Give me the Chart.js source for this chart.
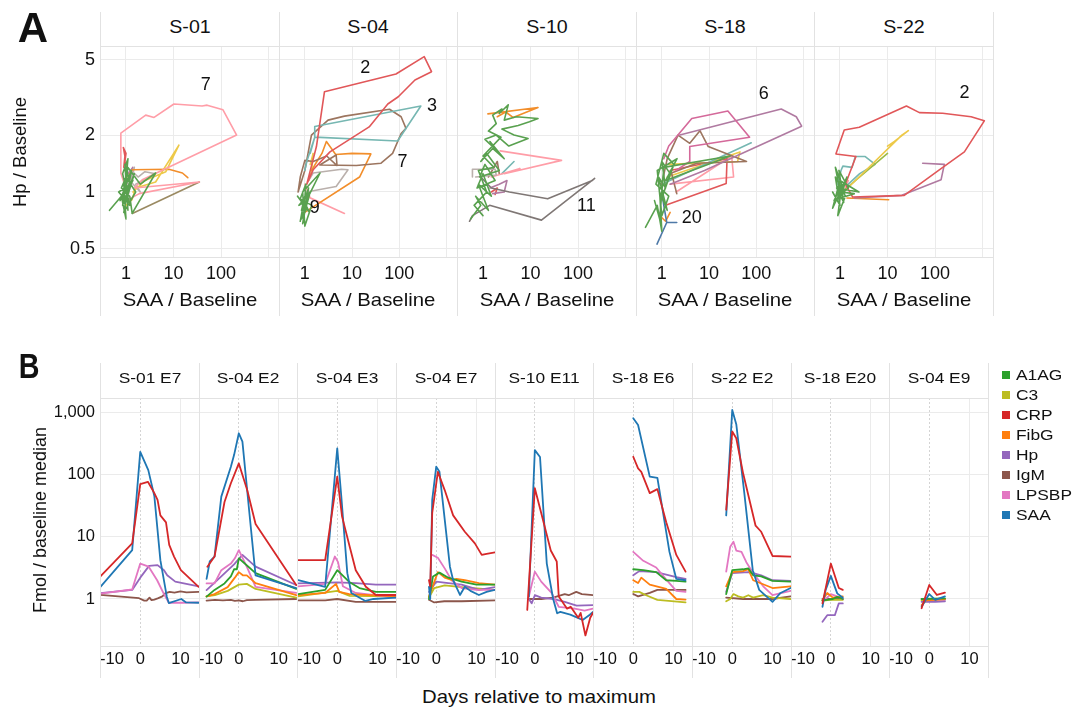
<!DOCTYPE html>
<html><head><meta charset="utf-8">
<script src="https://cdn.jsdelivr.net/npm/chart.js@4.4.1/dist/chart.umd.min.js"></script>
<style>
html,body{margin:0;padding:0;background:#fff;}
#root{position:relative;width:1075px;height:715px;overflow:hidden;font-family:"Liberation Sans",Arial,Helvetica,sans-serif;color:#111;}
canvas{position:absolute;}
.t{position:absolute;white-space:nowrap;line-height:1;}
.ln{position:absolute;background:#e2e2e2;}
</style></head><body><div id="root"></div>
<script>
// ================= DATA =================
// ---- Panel A: Hp/Baseline vs SAA/Baseline trajectories, pairs [SAA ratio, Hp ratio]
const A_TITLES = ['S-01', 'S-04', 'S-10', 'S-18', 'S-22'];
const A_X_TICKS = [1, 10, 100, 1000];
const A_X_LABELS = ['1', '10', '100', ''];
const A_Y_TICKS = [0.5, 1, 2, 5];
const A_Y_LABELS = ['0.5', '1', '2', '5'];

const A_S01 = {
  G: [[0.45,0.8],[0.8,0.95],[1.0,0.72],[0.9,1.1],[1.2,0.85],[0.85,1.25],[1.1,1.5],[0.95,1.0],[1.4,1.15],[0.75,0.9],[1.3,1.3],[0.9,0.78],[1.6,1.0],[1.0,1.2],[0.8,1.05],[1.2,0.95],[1.35,0.77],[4.2,1.26],[2.0,1.1],[1.1,1.35],[0.85,0.85],[1.5,1.25],[1.0,0.9],[0.7,1.0],[1.25,1.1],[0.95,1.4],[1.1,0.8]],
  E7: [[1.05,1.0],[0.78,1.26],[0.78,1.6],[0.78,2.05],[2.6,2.55],[3.9,2.48],[10.2,2.92],[40,2.85],[51,2.88],[110,2.72],[213,2.0],[2.2,1.16],[1.5,1.05],[35,1.13],[1.9,0.98],[1.2,0.92]],
  Y: [[1.0,0.85],[1.34,0.91],[1.6,1.05],[4.2,1.13],[13,1.77],[6.9,1.28],[2.5,1.15],[1.4,1.0]],
  O: [[1.1,1.2],[1.35,1.31],[8,1.32],[15.4,1.26],[20,1.19]],
  R: [[0.9,1.35],[0.95,1.55],[0.88,1.72],[1.0,1.6],[0.95,1.45],[1.05,1.3]],
  BR: [[1.36,0.77],[35,1.13]],
  GR: [[1.0,1.05],[1.3,1.3],[1.8,1.2],[2.5,1.28],[4.2,1.25],[1.6,1.1],[2.0,1.0],[1.2,1.15],[1.5,1.35],[1.1,0.95]],
  P: [[1.1,1.25],[1.4,1.35],[1.25,1.3]]
};
const A_S04 = {
  G: [[0.8,0.7],[1.0,0.95],[0.85,0.8],[1.2,1.05],[0.9,0.68],[1.1,0.9],[0.75,0.85],[1.3,1.0],[0.95,0.75],[1.05,1.1],[0.8,0.92],[1.4,0.85],[1.0,0.66],[0.9,1.0],[2.1,1.26],[1.2,0.95],[0.85,0.72],[1.1,0.82],[0.7,0.95],[1.25,0.78],[0.95,0.9]],
  E2: [[1.1,1.1],[1.76,1.74],[2.6,3.39],[85,4.21],[336,5.2],[480,4.33],[214,3.91],[95,3.19],[57,2.92],[23,2.21],[3.4,1.63],[1.5,1.31],[1.1,1.1]],
  E3: [[1.0,1.3],[1.1,1.45],[1.62,1.95],[1.62,2.22],[285,2.85],[92,1.86],[1.62,1.95],[1.3,1.6]],
  E7: [[0.72,1.0],[1.0,1.3],[1.38,2.0],[3.1,2.4],[6.9,2.52],[62,2.74],[109,2.5],[138,2.17],[109,2.04],[72,1.6],[41,1.42],[12.3,1.38],[2.07,1.39],[4.6,1.57],[4.8,1.38],[2.9,1.55],[1.5,1.45],[1.0,1.47],[0.8,1.2],[0.72,1.0]],
  O: [[0.92,0.77],[14.4,1.2],[25,1.59],[10,1.6],[4.5,1.58],[2.86,1.85],[2.3,1.6],[1.8,1.45],[1.4,1.3]],
  GR: [[1.08,1.0],[4.6,1.07],[8.2,1.31],[6.0,1.32],[1.5,1.26],[1.2,1.15]],
  PK: [[1.1,0.95],[6.9,0.77],[1.3,0.93],[1.0,1.1]],
  Y: [[1.3,1.4],[1.5,1.6],[1.4,1.3],[1.2,1.15]]
};
const A_S10 = {
  G: [[0.55,0.72],[0.9,0.85],[0.7,0.95],[1.3,0.8],[0.8,1.1],[1.5,0.95],[1.0,1.25],[0.75,1.05],[1.8,1.15],[1.1,1.4],[0.85,1.2],[2.2,1.3],[1.2,1.6],[0.9,1.45],[1.6,1.7],[2.8,1.5],[1.4,1.85],[2.0,1.65],[1.1,1.9],[1.9,2.0],[3.5,1.75],[8.9,1.92],[4.5,2.0],[2.5,2.15],[5.5,2.25],[9.5,2.35],[14.4,2.45],[5.0,2.5],[2.8,2.4],[3.4,2.89],[2.2,2.6],[2.5,2.75],[1.6,2.55],[1.9,2.3],[1.3,2.1],[2.4,1.95],[1.0,1.55],[1.7,1.35],[0.8,1.3],[1.2,1.0],[0.65,0.85],[1.0,0.75]],
  E11: [[0.52,0.7],[0.6,0.75],[1.38,0.85],[17,0.71],[224,1.18],[200,1.15],[23,0.92],[3.6,1.0],[1.5,1.05],[0.9,1.2]],
  GB: [[0.6,1.2],[0.6,1.32],[1.8,1.32],[1.9,1.23],[0.7,1.2]],
  O: [[1.27,2.59],[14.4,2.8],[4.3,2.48],[3.0,2.65],[2.0,2.5]],
  PK: [[2.3,1.65],[45,1.47],[2.8,1.25],[6,1.33],[1.5,1.2]],
  P: [[1.4,1.05],[2.2,1.1],[3.2,1.15],[2.8,1.0],[1.6,0.98]],
  R: [[1.5,1.0],[2.0,1.05],[1.8,0.97]],
  BR: [[1.3,1.2],[2.0,1.45],[2.2,1.25]],
  T: [[2.5,1.25],[4.5,1.45]]
};
const A_S18 = {
  G: [[0.45,0.65],[0.8,0.85],[1.0,0.62],[0.9,1.0],[1.3,0.8],[0.85,1.2],[1.2,1.05],[1.0,1.45],[1.5,1.25],[0.95,0.9],[1.8,1.4],[1.1,1.6],[0.75,1.1],[1.4,0.95],[1.0,0.75],[0.8,1.3],[2.1,1.5],[1.2,1.15],[28,1.55],[1.1,1.35],[0.9,0.72],[0.7,0.9]],
  E6: [[1.1,1.5],[1.4,1.75],[4.3,2.45],[25,2.68],[72,1.95],[3.9,1.74],[3.9,1.45],[2.0,1.3]],
  P: [[2.4,2.0],[336,2.75],[700,2.5],[910,2.23],[8,1.3],[1.5,1.1]],
  BR: [[1.0,1.1],[1.3,1.5],[2.2,2.0],[3.9,1.81],[6.4,2.11],[9.6,1.74],[62,1.45],[5.5,1.42],[1.6,1.26],[2.07,0.98]],
  T: [[1.0,1.1],[78,1.82]],
  Y: [[1.3,1.2],[45,1.63],[40,1.45],[1.4,1.4]],
  R: [[1.2,0.85],[23,1.11],[24,1.5],[1.5,1.3]],
  PK: [[2.0,1.0],[30,1.55],[33,1.2],[1.5,1.1]],
  E20: [[1.0,1.0],[1.1,0.85],[1.27,0.69],[2.07,0.69],[1.27,0.69],[0.79,0.53]],
  O: [[0.9,0.75],[1.2,0.7],[1.5,0.78]]
};
const A_S22 = {
  G: [[0.7,1.0],[1.0,0.85],[0.8,1.2],[1.3,0.95],[0.9,0.75],[1.1,1.1],[0.75,0.9],[1.5,1.05],[0.95,1.3],[1.2,0.88],[0.85,1.05],[2.5,1.0],[1.0,1.15],[0.7,0.82],[1.4,1.2],[1.05,0.95],[0.8,1.35],[1.2,1.02],[0.9,0.92],[2.0,0.98],[1.0,1.0]],
  E2: [[1.85,0.94],[1.3,1.1],[2.17,1.54],[0.82,1.59],[1.23,2.13],[2.55,2.2],[25,2.85],[47,2.63],[145,2.61],[575,2.5],[1090,2.38],[415,1.63],[123,1.31],[22.5,0.96],[1.85,0.94]],
  P: [[55,1.42],[157,1.4],[134,1.16],[20,0.96],[2.0,0.93]],
  Y: [[1.2,1.0],[20,2.0],[27.5,2.11],[14,1.85],[10,1.75]],
  YG: [[1.1,1.0],[10,1.6]],
  T: [[0.9,1.1],[1.05,1.3],[1.15,1.37],[1.8,1.35],[2.1,1.54],[3.4,1.54],[5.5,1.4],[2.6,1.25],[1.5,1.1]],
  O: [[1.4,0.93],[10.6,0.91]],
  PK: [[1.2,1.0],[1.5,1.15],[1.3,1.05]]
};
const A_DATA = [A_S01, A_S04, A_S10, A_S18, A_S22];
// episode number labels: [text, SAA ratio, Hp ratio]
const A_LABELS = [
  [['7', 48, 3.68]],
  [['2', 19, 4.53], ['3', 490, 2.85], ['7', 116, 1.44], ['9', 1.62, 0.82]],
  [['11', 150, 0.84]],
  [['6', 144, 3.29], ['20', 4.3, 0.73]],
  [['2', 415, 3.33]]
];

// ---- Panel B: Fmol / baseline median vs days relative to maximum, pairs [day, ratio]
const ANALYTES = ['A1AG', 'C3', 'CRP', 'FibG', 'Hp', 'IgM', 'LPSBP', 'SAA'];
const B_TITLES = ['S-01 E7', 'S-04 E2', 'S-04 E3', 'S-04 E7', 'S-10 E11', 'S-18 E6', 'S-22 E2', 'S-18 E20', 'S-04 E9'];
const B_X_TICKS = [-10, 0, 10];
const B_Y_TICKS = [1, 10, 100, 1000];

const B_S01_E7 = {
  SAA: [[-9.9,1.57],[-2,6.1],[0,230],[2,117],[3.5,45],[5,4.2],[6.6,1.09],[7.1,0.86],[10.2,1.0],[11.4,0.88],[14.5,0.87]],
  CRP: [[-9.9,2.3],[-2,7.8],[0,70],[1.9,76],[3.5,50],[4.3,39],[5,22],[6.4,17],[7.2,7.4],[8.4,4.8],[10.1,2.9],[14.5,1.57]],
  Hp: [[-9.9,1.24],[-2,1.4],[0,2.2],[2.2,3.4],[4.3,3.5],[5.9,2.9],[6.7,2.4],[8.7,1.9],[14.5,1.6]],
  LPSBP: [[-9.9,1.22],[-2,1.42],[0,3.7],[2.1,3.3],[4.2,2.0],[5.8,1.23],[7.1,0.87],[10.5,0.87],[14.5,0.88]],
  IgM: [[-9.9,1.16],[-0.3,1.03],[1.0,0.94],[1.6,0.94],[2.3,1.05],[2.8,0.96],[3.5,0.98],[4.5,1.03],[5.5,1.1],[6.2,1.23],[7.3,1.3],[8.5,1.27],[10,1.32],[11.5,1.28],[14.5,1.3]]
};
const B_S04_E2 = {
  SAA: [[-8.1,2.1],[-7.3,4.0],[-6.1,4.8],[-4.4,44],[-2,133],[-1.2,204],[0,457],[0.9,335],[2.5,30],[4.2,2.4],[14.4,1.5]],
  CRP: [[-7.9,3.3],[-6.1,4.8],[-3.6,36],[-2,72],[0,150],[2.1,56],[4.2,16],[14.4,1.68]],
  LPSBP: [[-8.1,1.78],[-6.1,1.78],[-4.4,2.9],[-2,3.7],[-1,4.5],[0,6.1],[2.1,3.2],[4.2,1.57],[14.4,1.25]],
  Hp: [[-8.1,1.39],[-4.4,2.3],[-1.2,3.6],[0.9,5.1],[4.2,3.3],[14.4,1.68]],
  A1AG: [[-8.1,1.09],[-6.1,1.4],[-3.6,1.78],[-2,2.3],[-1.2,3.0],[-0.5,3.0],[0,4.5],[4.2,2.6],[14.4,1.45]],
  FibG: [[-8.1,1.1],[-6.1,1.2],[-2.8,1.55],[-1,2.2],[0,2.7],[1,2.4],[2,2.4],[4.2,1.8],[14.4,1.15]],
  C3: [[-8.1,1.1],[-6,1.15],[-2.8,1.35],[0,1.7],[2,1.75],[4.2,1.45],[14.4,1.05]],
  IgM: [[-8.1,0.94],[-6,0.97],[-4,0.95],[-2,0.97],[-1,0.93],[0,0.95],[1,0.92],[2,0.96],[4.2,0.97],[14.4,1.0]]
};
const B_S04_E3 = {
  SAA: [[-9.7,2.0],[-3,1.57],[0,262],[1,45],[2.5,2.6],[3.5,1.25],[5,1.1],[7,0.93],[9,1.0],[14.6,1.05]],
  CRP: [[-9.7,4.2],[-3,4.2],[0,92],[1.2,21],[3.1,6.9],[4.6,2.9],[7.1,1.57],[9.6,1.16],[14.6,1.16]],
  LPSBP: [[-9.7,1.6],[-3,1.75],[-0.6,4.8],[0.2,3.9],[1.4,1.6],[4.6,1.25],[14.6,1.05]],
  Hp: [[-9.7,1.78],[0,1.85],[4.6,1.8],[9.6,1.7],[14.6,1.7]],
  A1AG: [[-9.7,1.2],[-3,1.4],[0,2.9],[3.1,1.85],[5.5,1.5],[9.6,1.3],[14.6,1.3]],
  FibG: [[-9.7,1.15],[-3,1.25],[-0.3,1.75],[0.5,1.3],[3,1.2],[14.6,1.1]],
  C3: [[-9.7,1.1],[0,1.35],[3.1,1.12],[14.6,1.1]],
  IgM: [[-9.7,0.95],[-3,0.95],[0,1.0],[4.6,0.9],[14.6,0.9]]
};
const B_S04_E7 = {
  SAA: [[-1.8,1.57],[-1.5,1.0],[-1,39],[0,133],[0.8,110],[3.4,3.3],[4.2,2.0],[5.9,1.16],[7.1,1.57],[8.5,1.35],[10.6,1.16],[12.5,1.3],[14.6,1.4]],
  CRP: [[-1.8,2.0],[-1.5,1.6],[-1,24],[0.4,110],[2.1,56],[4.2,22],[7.1,12],[9.6,7.8],[11.3,5.1],[12.5,5.3],[14.6,5.6]],
  LPSBP: [[-1,5.1],[0.4,4.6],[2.1,3.1],[3.8,2.0],[6.3,1.5],[10,1.4],[14.6,1.4]],
  A1AG: [[-1.8,1.0],[-0.8,2.3],[0.8,2.65],[3,2.2],[6.3,1.9],[10,1.7],[14.6,1.7]],
  FibG: [[-1.8,1.1],[0.4,2.7],[2.1,2.2],[4,2.0],[5,2.1],[7.1,2.0],[10.6,1.8],[14.6,1.7]],
  C3: [[-1.8,1.05],[-0.5,1.5],[2.1,1.65],[6.3,1.55],[14.6,1.4]],
  Hp: [[-1.8,1.3],[0,1.9],[3,1.8],[6.3,1.7],[10.6,1.4],[14.6,1.55]],
  IgM: [[-1.8,0.97],[-0.5,0.88],[2,0.92],[6.3,0.92],[14.6,0.95]]
};
const B_S10_E11 = {
  SAA: [[-1.5,1.09],[0,245],[1.3,190],[3,3.7],[4.6,1.0],[5.6,0.59],[6.4,0.62],[8.9,0.56],[12,0.46],[13.8,0.56],[14.6,0.62]],
  CRP: [[-1.9,0.67],[0,60],[1.6,24],[4,6],[5.5,4.0],[6,1.1],[8.1,0.7],[9,0.75],[10.9,0.5],[11.5,0.6],[12.7,0.26],[13.9,0.5],[14.6,0.6]],
  LPSBP: [[-1.5,1.1],[0,2.75],[1.6,1.9],[4.2,1.25],[6,0.75],[10,0.7],[12.5,0.65],[14.6,0.7]],
  Hp: [[-1.5,1.0],[-0.8,0.85],[0,1.15],[1.6,1.05],[4.6,1.0],[7.5,0.9],[10.5,0.78],[14.6,0.8]],
  IgM: [[-1.5,1.0],[1.6,1.0],[4.6,1.05],[7.5,1.2],[8.5,1.15],[10.4,1.3],[11.8,1.2],[14.6,1.15]]
};
const B_S18_E6 = {
  SAA: [[0,795],[1.2,620],[4.1,92],[6,88],[9,5.7],[10.7,2.1],[13,2.0]],
  CRP: [[0,192],[1.2,125],[2,110],[4.1,50],[6,58],[8.2,17],[10.7,5.1],[13,2.75]],
  LPSBP: [[0,5.7],[2.5,4.1],[5.7,3.2],[8.2,2.05],[10.7,1.35],[13,1.3]],
  A1AG: [[0,3.0],[2.5,2.9],[5.7,2.7],[8.2,2.0],[10.7,1.95],[13,1.9]],
  Hp: [[0,2.4],[1.5,2.8],[5.7,2.7],[10.7,2.25],[13,2.1]],
  FibG: [[0,2.0],[1.2,1.8],[2,2.2],[4.1,1.7],[8.2,1.45],[10.7,1.0],[13,0.98]],
  IgM: [[0,1.2],[1.2,1.1],[4.1,1.25],[6,1.4],[13,1.4]],
  C3: [[0,1.3],[1.5,1.3],[3.2,1.15],[6,0.97],[13,0.88]]
};
const B_S22_E2 = {
  SAA: [[-1.5,22],[0,1080],[1,640],[3,50],[5.1,2.9],[6.7,1.4],[10,0.9],[12,1.25],[14.5,1.5]],
  CRP: [[-1.5,27],[0,487],[1,380],[2.7,104],[5.8,15],[7.2,12],[10,4.9],[14.5,4.8]],
  LPSBP: [[-1.5,2.75],[-0.5,6.9],[0.3,8.3],[1,6.0],[2.3,5.7],[3.5,3.9],[5.2,2.6],[7.7,1.6],[10,1.15],[14.5,1.35]],
  A1AG: [[-1.5,1.2],[0,2.9],[2.7,3.0],[4,3.1],[5.2,2.4],[7.2,2.3],[10,1.95],[14.5,1.9]],
  FibG: [[-1.5,1.6],[0,2.7],[2.7,2.8],[4,3.0],[5.2,2.0],[10,1.5],[14.5,1.6]],
  Hp: [[-1.5,1.3],[0,2.6],[4,2.7],[5.2,2.6],[7.2,2.4],[10,2.0],[14.5,1.95]],
  C3: [[-1.5,0.92],[-0.5,1.0],[0.3,1.2],[1.5,1.1],[2.7,1.05],[4,1.15],[5.2,1.05],[7.7,1.15],[10,1.05],[14.5,1.0]],
  IgM: [[-1.5,1.05],[2.7,1.0],[10,1.0],[14.5,1.1]]
};
const B_S18_E20 = {
  CRP: [[-2.1,0.85],[0,3.7],[2,1.5],[3,1.4]],
  SAA: [[-2.1,0.75],[-1.3,1.4],[0,2.35],[1.6,1.23],[3,1.05]],
  Hp: [[-2.1,0.43],[-0.9,0.55],[1,0.55],[2,0.85],[3,0.85]],
  FibG: [[-2.1,0.95],[-0.9,1.25],[0.5,1.05],[3,1.1]],
  A1AG: [[-2.1,0.95],[0.5,1.0],[1.6,1.08],[3,1.0]],
  LPSBP: [[-1.3,1.0],[0,1.2],[1.6,1.1],[3,1.0]],
  C3: [[-2.1,0.93],[0,0.98],[3,0.97]],
  IgM: [[-2.1,1.0],[3,1.0]]
};
const B_S04_E9 = {
  CRP: [[-1.9,0.71],[0,1.68],[1.9,1.16],[3.9,1.26]],
  SAA: [[-1.9,0.75],[0,1.2],[1.5,0.97],[3.9,1.1]],
  A1AG: [[-1.9,1.0],[3.9,1.02]],
  Hp: [[-1.9,0.9],[1.5,0.9],[3.9,0.92]],
  FibG: [[-1.9,0.8],[-0.8,0.95],[3.9,1.0]],
  LPSBP: [[-1,0.95],[1,0.97],[3.9,0.98]],
  C3: [[-1.9,0.95],[3.9,0.98]],
  IgM: [[-1.9,1.0],[3.9,1.0]]
};
const B_DATA = [B_S01_E7, B_S04_E2, B_S04_E3, B_S04_E7, B_S10_E11, B_S18_E6, B_S22_E2, B_S18_E20, B_S04_E9];

// ================= STYLE / LAYOUT =================
const FONT = '"Liberation Sans", Arial, Helvetica, sans-serif';
const INK = '#111111';
const GRID = '#ebebeb';
const T10 = { blue:'#4E79A7', orange:'#F28E2B', red:'#E15759', teal:'#76B7B2', green:'#59A14F', yellow:'#EDC948', purple:'#B07AA1', pink:'#FF9DA7', brown:'#9C755F', gray:'#BAB0AC' };
const A_COLORS = [
  { G:T10.green, E7:T10.pink, Y:T10.yellow, O:T10.orange, R:T10.red, BR:'#9a8a62', GR:T10.gray, P:T10.purple },
  { G:T10.green, E2:T10.red, E3:T10.teal, E7:T10.brown, O:T10.orange, GR:T10.gray, PK:T10.pink, Y:T10.yellow },
  { G:T10.green, E11:'#7f7775', GB:T10.gray, O:T10.orange, PK:T10.pink, P:T10.purple, R:T10.red, BR:T10.brown, T:T10.teal },
  { G:T10.green, E6:'#D4699A', P:T10.purple, BR:T10.brown, T:T10.teal, Y:T10.yellow, R:T10.red, PK:T10.pink, E20:T10.blue, O:T10.orange },
  { G:T10.green, E2:T10.red, P:T10.purple, Y:T10.yellow, YG:'#9CBB45', T:T10.teal, O:T10.orange, PK:T10.pink }
];
const ANALYTE_COLORS = { A1AG:'#2ca02c', C3:'#bcbd22', CRP:'#d62728', FibG:'#ff7f0e', Hp:'#9467bd', IgM:'#8c564b', LPSBP:'#e377c2', SAA:'#1f77b4' };
const B_DRAW_ORDER = ['CRP', 'SAA', 'A1AG', 'FibG', 'LPSBP', 'Hp', 'C3', 'IgM'];

const A_LEFTS = [100, 279, 457, 636, 814, 993];
const A_TOP = 46, A_BOTTOM = 257, A_AXIS_H = 60;
const A_X_RANGE = [0.284, 1660], A_Y_RANGE = [0.453, 5.92];
const B_LEFTS = [100, 199, 297, 396, 495, 593, 692, 791, 889, 988];
const B_TOP = 398, B_BOTTOM = 646, B_AXIS_H = 32;
const B_X_RANGE = [-10, 14.6], B_Y_RANGE = [0.176, 1683];

// ================= RENDER =================
Chart.defaults.font.family = FONT;
const root = document.getElementById('root');

function text(str, cx, cy, size, o = {}) {
  const d = document.createElement('div');
  d.className = 't'; d.textContent = str;
  d.style.fontSize = size + 'px'; d.style.left = cx + 'px'; d.style.top = cy + 'px';
  d.style.fontWeight = o.weight || 'normal';
  const tx = o.left ? '0' : '-50%';
  d.style.transformOrigin = o.left ? 'left center' : 'center center';
  d.style.transform = `translate(${tx},-50%) rotate(${o.rot || 0}deg) scaleX(${o.sx || 1})`;
  root.appendChild(d);
  return d;
}
function rule(x, y, w, h) {
  const d = document.createElement('div'); d.className = 'ln';
  Object.assign(d.style, { left: x + 'px', top: y + 'px', width: w + 'px', height: h + 'px' });
  root.appendChild(d);
}
function zeroPad(s) { s.paddingTop = 0; s.paddingBottom = 0; s.paddingLeft = 0; s.paddingRight = 0; }

function buildChart(left, top, w, h, datasets, x, y, plugins) {
  const c = document.createElement('canvas');
  c.width = w; c.height = h;
  Object.assign(c.style, { left: left + 'px', top: top + 'px', width: w + 'px', height: h + 'px' });
  root.appendChild(c);
  return new Chart(c.getContext('2d'), {
    type: 'line',
    data: { datasets },
    options: {
      responsive: false, animation: false, devicePixelRatio: 1, events: [],
      layout: { padding: 0 },
      plugins: { legend: { display: false }, tooltip: { enabled: false } },
      elements: { point: { radius: 0 }, line: { tension: 0, fill: false, borderJoinStyle: 'round', borderCapStyle: 'round' } },
      scales: { x, y }
    },
    plugins: plugins || []
  });
}

function labelPlugin(labels) {
  return {
    id: 'episodeLabels',
    afterDatasetsDraw(chart) {
      const ctx = chart.ctx, xs = chart.scales.x, ys = chart.scales.y;
      ctx.save();
      ctx.font = '18px ' + FONT; ctx.fillStyle = INK;
      ctx.textAlign = 'center'; ctx.textBaseline = 'middle';
      labels.forEach(([t, vx, vy]) => ctx.fillText(t, xs.getPixelForValue(vx), ys.getPixelForValue(vy)));
      ctx.restore();
    }
  };
}

// ---------- Panel A ----------
A_TITLES.forEach((title, i) => {
  const first = i === 0;
  const fl = A_LEFTS[i], fw = A_LEFTS[i + 1] - fl;
  const canvasLeft = first ? 0 : fl;
  const w = first ? fl + fw : fw;
  const data = A_DATA[i];
  const datasets = Object.keys(data).map(id => ({
    data: data[id].map(([x, y]) => ({ x, y })),
    borderColor: A_COLORS[i][id], borderWidth: 1.6
  }));
  const xScale = {
    type: 'logarithmic', min: A_X_RANGE[0], max: A_X_RANGE[1], bounds: 'data',
    afterBuildTicks: s => { s.ticks = A_X_TICKS.map(v => ({ value: v })); },
    afterFit: s => { s.height = A_AXIS_H; zeroPad(s); },
    ticks: { autoSkip: false, maxRotation: 0, minRotation: 0, padding: 6, color: INK, font: { family: FONT, size: 18 },
             callback: (v, idx) => A_X_LABELS[idx] },
    grid: { color: GRID, drawTicks: false }, border: { display: false }
  };
  const yScale = {
    type: 'logarithmic', min: A_Y_RANGE[0], max: A_Y_RANGE[1], bounds: 'data',
    afterBuildTicks: s => { s.ticks = A_Y_TICKS.map(v => ({ value: v })); },
    afterFit: s => { s.width = first ? fl : 0; zeroPad(s); },
    ticks: { display: first, autoSkip: false, padding: 5, color: INK, font: { family: FONT, size: 18 },
             callback: (v, idx) => A_Y_LABELS[idx] },
    grid: { color: GRID, drawTicks: false }, border: { display: false }
  };
  buildChart(canvasLeft, A_TOP, w, (A_BOTTOM - A_TOP) + A_AXIS_H, datasets, xScale, yScale, [labelPlugin(A_LABELS[i])]);
  text(title, fl + fw / 2, 27.5, 17.5, { sx: 1.12 });
  text('SAA / Baseline', fl + fw / 2, 300, 18.5, { sx: 1.1 });
});

// ---------- Panel B ----------
B_TITLES.forEach((title, i) => {
  const first = i === 0;
  const fl = B_LEFTS[i], fw = B_LEFTS[i + 1] - fl;
  const canvasLeft = first ? 0 : fl;
  const w = first ? fl + fw : fw;
  const data = B_DATA[i];
  const datasets = B_DRAW_ORDER.filter(a => data[a]).map(a => ({
    label: a,
    data: data[a].map(([x, y]) => ({ x, y })),
    borderColor: ANALYTE_COLORS[a], borderWidth: 1.8
  }));
  const xTicks = B_X_TICKS.concat([B_X_RANGE[1]]);
  const xScale = {
    type: 'linear', min: B_X_RANGE[0], max: B_X_RANGE[1], bounds: 'data',
    afterBuildTicks: s => { s.ticks = xTicks.map(v => ({ value: v })); },
    afterFit: s => { s.height = B_AXIS_H; zeroPad(s); },
    ticks: { autoSkip: false, maxRotation: 0, minRotation: 0, align: 'inner', padding: 4, color: INK,
             font: { family: FONT, size: 16.5 },
             callback: (v, idx) => (idx < B_X_TICKS.length ? String(B_X_TICKS[idx]) : '') },
    grid: { drawTicks: false,
            color: c => (c.tick && (c.tick.value === B_X_RANGE[0] || c.tick.value === B_X_RANGE[1])) ? 'rgba(0,0,0,0)' : (c.tick && c.tick.value === 0 ? '#d4d4d4' : GRID) },
    border: { display: false, dash: c => (c.tick && c.tick.value === 0 ? [2, 2] : []) }
  };
  const yScale = {
    type: 'logarithmic', min: B_Y_RANGE[0], max: B_Y_RANGE[1], bounds: 'data',
    afterBuildTicks: s => { s.ticks = B_Y_TICKS.map(v => ({ value: v })); },
    afterFit: s => { s.width = first ? fl : 0; zeroPad(s); },
    ticks: { display: first, autoSkip: false, padding: 5, color: INK, font: { family: FONT, size: 16.5 },
             callback: v => Number(v).toLocaleString('en-US') },
    grid: { color: GRID, drawTicks: false }, border: { display: false }
  };
  buildChart(canvasLeft, B_TOP, w, (B_BOTTOM - B_TOP) + B_AXIS_H, datasets, xScale, yScale);
  text(title, fl + fw / 2, 378, 15.5, { sx: 1.12 });
});

// ---------- frames / rules ----------
A_LEFTS.forEach(x => rule(x, 12, 1, 304));
rule(A_LEFTS[0], A_TOP, A_LEFTS[A_LEFTS.length - 1] - A_LEFTS[0], 1);
rule(A_LEFTS[0], A_BOTTOM, A_LEFTS[A_LEFTS.length - 1] - A_LEFTS[0], 1);
B_LEFTS.forEach(x => rule(x, 363, 1, 315));
rule(B_LEFTS[0], B_TOP, B_LEFTS[B_LEFTS.length - 1] - B_LEFTS[0], 1);
rule(B_LEFTS[0], B_BOTTOM, B_LEFTS[B_LEFTS.length - 1] - B_LEFTS[0], 1);

// ---------- titles ----------
text('A', 33, 28, 42, { weight: 'bold' });
text('B', 29, 365, 35, { weight: 'bold', sx: 0.82 });
text('Hp / Baseline', 20, 152, 18.5, { rot: -90 });
text('Fmol / baseline median', 40, 520, 18, { rot: -90 });
text('Days relative to maximum', 539, 697, 18.5, { sx: 1.1 });

// ---------- legend (Panel B analytes) ----------
ANALYTES.forEach((a, i) => {
  const y = 375 + i * 20;
  const sq = document.createElement('div');
  Object.assign(sq.style, { position: 'absolute', left: '1002px', top: (y - 4) + 'px', width: '8px', height: '8px', background: ANALYTE_COLORS[a] });
  root.appendChild(sq);
  text(a, 1016, y, 15.5, { left: true, sx: 1.12 });
});
</script></body></html>
